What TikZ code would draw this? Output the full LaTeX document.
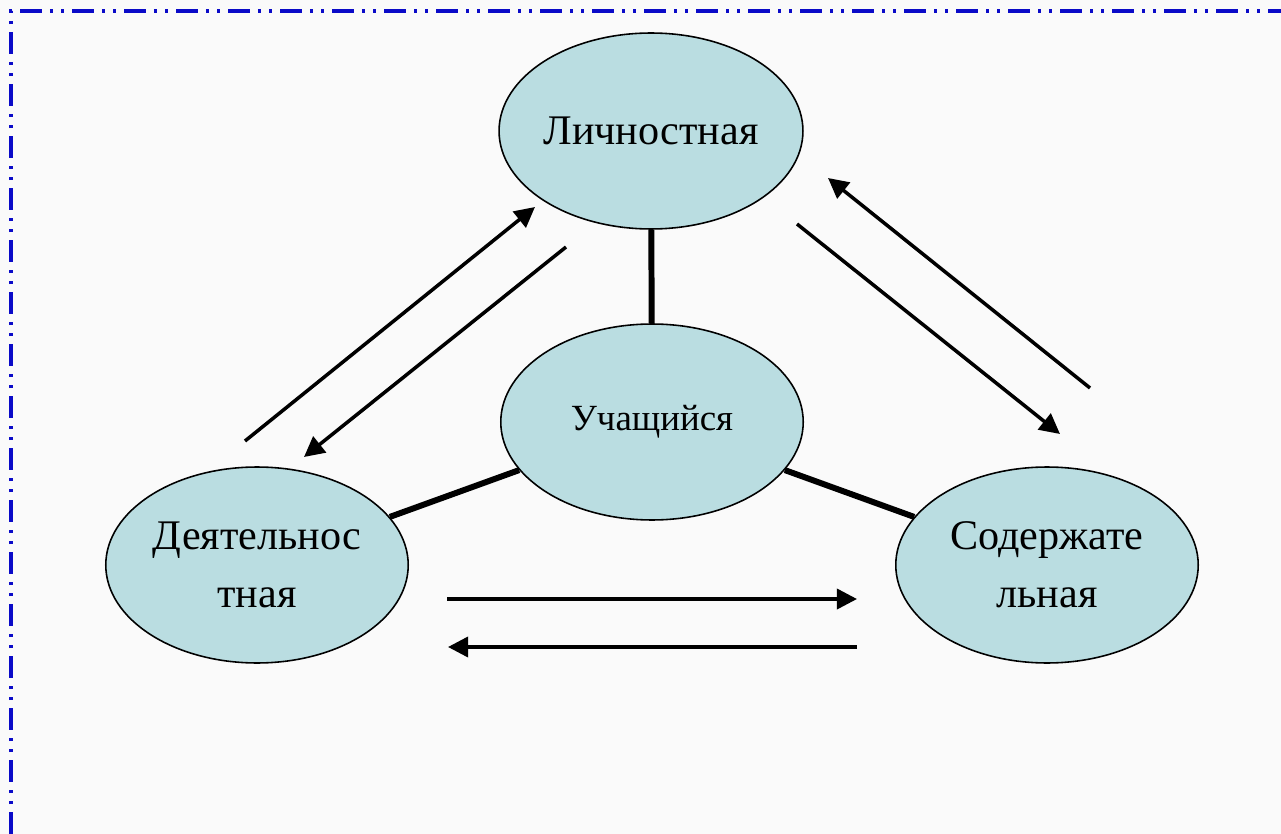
\documentclass[tikz,border=0pt]{standalone}
\usepackage{fontspec}
\setmainfont{Liberation Serif}
\usetikzlibrary{shapes.geometric, arrows.meta, positioning}
\definecolor{ovalblue}{HTML}{BADDE1}
\definecolor{frameblue}{HTML}{0A0AC8}
\definecolor{pagegray}{HTML}{FAFAFA}

\begin{document}
\begin{tikzpicture}[x=0.02cm, y=-0.02cm,
  oval/.style={ellipse, draw=black, line width=0.9pt, fill=ovalblue, minimum width=6.05cm, minimum height=3.92cm, inner sep=0pt, align=center, font=\fontsize{24}{33}\selectfont},
  link/.style={line width=3.4pt},
  flow/.style={line width=2pt, -{Triangle[length=11.5pt,width=11.5pt]}}]
% Page and frame
\useasboundingbox[fill=pagegray] (0,0) rectangle (1281,834);
\draw[frameblue, line width=2.1pt, dash pattern=on 12.5pt off 4.5pt on 1.8pt off 4.5pt on 1.8pt off 4.5pt] (11,834) -- (11,11) -- (1281,11);

% Ovals
\node[oval] (lich) at (651,131) {Личностная};
\node[oval, font=\fontsize{21}{25}\selectfont] (uch) at (652,422) {Учащийся};
\node[oval] (deyat) at (257,565) {Деятельнос\\тная};
\node[oval] (soder) at (1047,565) {Содержате\\льная};

% Links to the centre
\draw[link] (lich) -- (uch);
\draw[link] (uch) -- (deyat);
\draw[link] (uch) -- (soder);

% Arrow ends
\coordinate (dl1) at (245,441);
\coordinate (ld1) at (535,207);
\coordinate (ld2) at (566,247);
\coordinate (dl2) at (304,457);
\coordinate (sl1) at (1090,388);
\coordinate (ls1) at (828,178);
\coordinate (ls2) at (797,224);
\coordinate (sl2) at (1060,434);
\coordinate (ds1) at (447,599);
\coordinate (sd1) at (857,599);
\coordinate (sd2) at (857,647);
\coordinate (ds2) at (448,647);

% Arrows
\draw[flow] (dl1) -- (ld1);
\draw[flow] (ld2) -- (dl2);
\draw[flow] (sl1) -- (ls1);
\draw[flow] (ls2) -- (sl2);
\draw[flow] (ds1) -- (sd1);
\draw[flow] (sd2) -- (ds2);
\end{tikzpicture}
\end{document}
